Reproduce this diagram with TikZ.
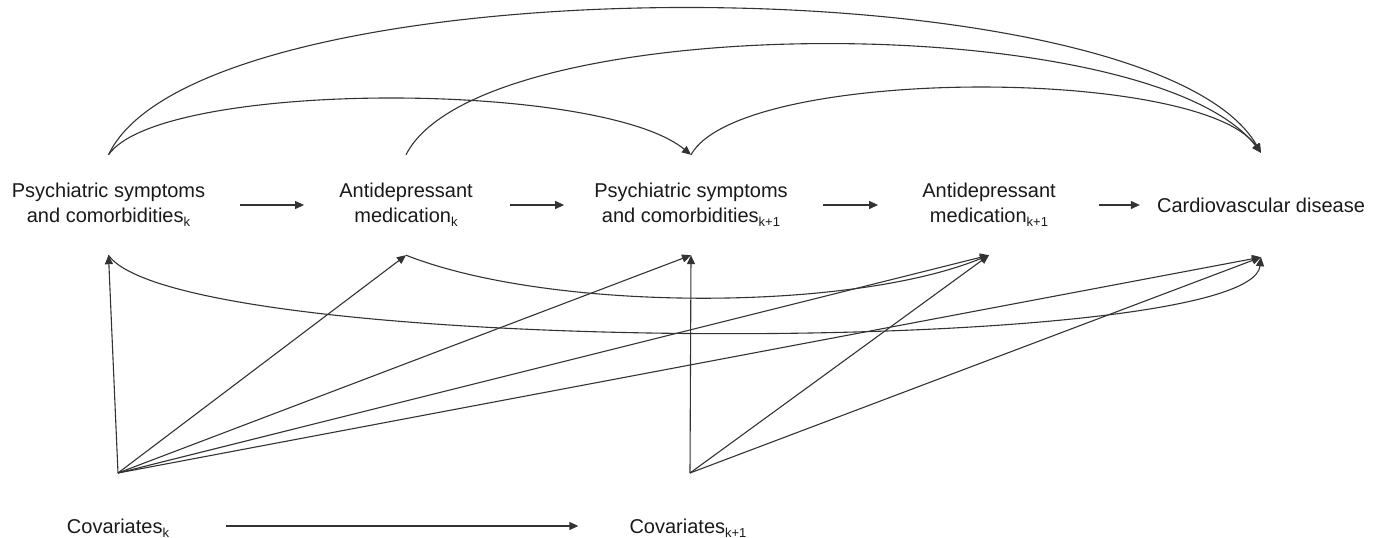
\documentclass[tikz,border=0pt]{standalone}
\usepackage{fontspec}
\setmainfont{Liberation Sans}
\usetikzlibrary{arrows.meta}
\newcommand{\lsub}[1]{\raisebox{-4pt}{\fontsize{13}{13}\selectfont #1}}
\begin{document}
\begin{tikzpicture}[x=1pt,y=-1pt,
  lbl/.style={font=\fontsize{20}{25}\selectfont, align=center, inner sep=0pt, text=black!90},
  arr/.style={draw=black!80, line width=1.1pt, -{Triangle[length=9pt,width=8pt]}},
  ln/.style={draw=black!80, line width=1.1pt}]
\useasboundingbox (0,0) rectangle (1379,538);
% main row
\node[lbl,minimum height=100pt] (pk)  at (108.5,205) {Psychiatric symptoms\\and comorbidities\lsub{k}};
\node[lbl,minimum height=100pt] (ak)  at (406,205) {Antidepressant\\medication\lsub{k}};
\node[lbl,minimum height=100pt] (pk1) at (691,205) {Psychiatric symptoms\\and comorbidities\lsub{k+1}};
\node[lbl,minimum height=100pt] (ak1) at (989,205) {Antidepressant\\medication\lsub{k+1}};
\node[lbl,minimum height=104pt] (cvd) at (1261,205) {Cardiovascular disease};
% covariates
\node[lbl,anchor=base] (covk)  at (118,533) {Covariates\lsub{k}};
\node[lbl,anchor=base] (covk1) at (688,533) {Covariates\lsub{k+1}};
\coordinate (jk)  at (118,473);
\coordinate (jk1) at (690,473);
% horizontal arrows
\draw[arr] ([xshift=35pt]pk.east) -- ([xshift=-35pt]ak.west);
\draw[arr] ([xshift=37pt]ak.east) -- ([xshift=-30pt]pk1.west);
\draw[arr] ([xshift=35pt]pk1.east) -- ([xshift=-44pt]ak1.west);
\draw[arr] ([xshift=43pt]ak1.east) -- ([xshift=-17pt]cvd.west);
\draw[arr] ([xshift=57pt,yshift=7pt]covk.base east) -- ([xshift=-51pt,yshift=7pt]covk1.base west);
% top arcs
\draw[arr] (pk.north) .. controls (200,-40) and (1150,-40) .. (cvd.north);
\draw[arr] (ak.north) .. controls (480,8) and (1150,8) .. (cvd.north);
\draw[arr] (pk.north) .. controls (160,80) and (600,80) .. (pk1.north);
\draw[arr] (pk1.north) .. controls (740,66) and (1200,66) .. (cvd.north);
% bottom arcs
\draw[arr] (ak.south) .. controls (550,312) and (850,312) .. (ak1.south);
\draw[arr] (pk.south) .. controls (180,358) and (1250,358) .. (cvd.south);
% covariates k
\draw[arr] (jk) -- (pk.south);
\draw[arr] (jk) -- (ak.south);
\draw[arr] (jk) -- (pk1.south);
\draw[arr] (jk) -- (ak1.south);
\draw[arr] (jk) -- (cvd.south);
% covariates k+1
\draw[arr] (jk1) -- (pk1.south);
\draw[arr] (jk1) -- (ak1.south);
\draw[arr] (jk1) -- (cvd.south);
\end{tikzpicture}
\end{document}
